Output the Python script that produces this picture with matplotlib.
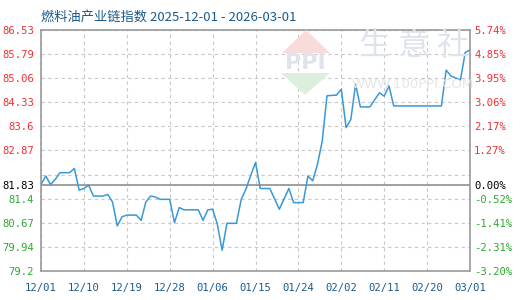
import pandas as pd
import numpy as np
import matplotlib
matplotlib.use("Agg")
import matplotlib.pyplot as plt
import matplotlib.dates as mdates
import matplotlib.patches as mpatches

plt.rcParams['font.family'] = ['Noto Sans CJK SC', 'DejaVu Sans']

# index values (day offset from 2025-12-01, value)
day_offsets = [0, 1, 2, 3, 4, 6, 7, 8, 9, 10, 11, 13, 14, 15, 16, 17, 18, 20,
               21, 22, 23, 24, 25, 27, 28, 29, 30, 33, 34, 35, 36, 37, 38, 39,
               41, 42, 43, 44, 45, 46, 48, 50, 52, 53, 55, 56, 57, 58, 59, 60,
               62, 63, 64, 65, 66, 67, 69, 71, 72, 73, 74, 84, 85, 86, 88, 89, 90]
values = [81.83, 82.09, 81.83, 81.99, 82.19, 82.19, 82.32, 81.66, 81.71, 81.81,
          81.48, 81.48, 81.53, 81.30, 80.57, 80.85, 80.90, 80.90,
          80.74, 81.30, 81.48, 81.45, 81.38, 81.38, 80.67, 81.13, 81.06, 81.06,
          80.74, 81.06, 81.08, 80.62, 79.83, 80.65,
          80.65, 81.38, 81.69, 82.11, 82.50, 81.71, 81.71, 81.08, 81.71, 81.28,
          81.28, 82.09, 81.94, 82.45, 83.15, 84.53,
          84.55, 84.73, 83.56, 83.81, 84.88, 84.19, 84.19, 84.62, 84.52, 84.83,
          84.22, 84.22, 85.31, 85.13, 85.01, 85.85, 85.92]

base_value = 81.83
y_ticks = [79.2, 79.94, 80.67, 81.4, 82.13, 82.87, 83.6, 84.33, 85.06, 85.79, 86.53]
left_labels = ['79.2', '79.94', '80.67', '81.4', '', '82.87', '83.6', '84.33',
               '85.06', '85.79', '86.53']
right_labels = ['-3.20%', '-2.31%', '-1.41%', '-0.52%', '', '1.27%', '2.17%',
                '3.06%', '3.95%', '4.85%', '5.74%']
x_tick_labels = ['12/01', '12/10', '12/19', '12/28', '01/06', '01/15', '01/24',
                 '02/02', '02/11', '02/20', '03/01']

start = pd.Timestamp('2025-12-01')
end = pd.Timestamp('2026-03-01')
dates = [start + pd.Timedelta(days=d) for d in day_offsets]
x_ticks = pd.date_range(start, end, freq='9D')

red = '#f03030'
green = '#2ea82e'
blue_txt = '#1a5a8c'
mono = 'DejaVu Sans Mono'


def fx(px):
    return px / 520


def fy(py):
    return 1 - py / 300


fig = plt.figure(figsize=(5.2, 3.0), dpi=100)
ax = fig.add_axes([fx(41), fy(271), 429 / 520, 241 / 300])

# watermark logo + text
fig.patches.append(mpatches.Polygon([(fx(282), fy(53)), (fx(306), fy(30)), (fx(330), fy(53))],
                                    closed=True, transform=fig.transFigure,
                                    fc='#f8dcdc', ec='none', zorder=0))
fig.patches.append(mpatches.Polygon([(fx(281), fy(73)), (fx(305), fy(95)), (fx(330), fy(73))],
                                    closed=True, transform=fig.transFigure,
                                    fc='#dcefdc', ec='none', zorder=0))
fig.text(fx(305), fy(63), 'PPI', fontsize=16, fontweight='bold', color='#dfe4ec',
         ha='center', va='center', family='DejaVu Sans', zorder=0)
fig.text(fx(414), fy(46), '生 意 社', fontsize=23, color='#dfe4ec',
         ha='center', va='center', zorder=0)
fig.text(fx(413), fy(85), 'WWW.100PPI.COM', fontsize=9.5, color='#e6e6e6',
         ha='center', va='center', family='DejaVu Sans', zorder=0)
ax.patch.set_alpha(0)

ax.plot(dates, values, color='#3a98d8', lw=1.1, zorder=3)
ax.axhline(base_value, color='#999999', lw=1.3, zorder=2)

ax.set_xlim(start, end)
ax.set_ylim(y_ticks[0], y_ticks[-1])
ax.set_xticks(x_ticks)
ax.set_xticklabels(x_tick_labels, family=mono, fontsize=7.6, color=blue_txt)
ax.set_yticks(y_ticks + [base_value])
ax.set_yticklabels(left_labels + ['81.83'], family=mono, fontsize=7.6)
for lbl, v in zip(ax.get_yticklabels(), y_ticks + [base_value]):
    lbl.set_color(red if v > base_value else (green if v < base_value else 'black'))
ax.tick_params(length=0, pad=5)
ax.tick_params(axis='x', pad=9)

ax.grid(True, ls=(0, (3, 3)), color='#c8c8c8', lw=0.8)
for s in ax.spines.values():
    s.set_color('#999999')
    s.set_linewidth(1.2)

ax2 = ax.twinx()
ax2.set_ylim(y_ticks[0], y_ticks[-1])
ax2.set_yticks(y_ticks + [base_value])
ax2.set_yticklabels(right_labels + ['0.00%'], family=mono, fontsize=7.6)
for lbl, v in zip(ax2.get_yticklabels(), y_ticks + [base_value]):
    lbl.set_color(red if v > base_value else (green if v < base_value else 'black'))
ax2.tick_params(length=0, pad=3)
for s in ax2.spines.values():
    s.set_visible(False)

fig.text(fx(41), fy(17), '燃料油产业链指数 2025-12-01 - 2026-03-01',
         fontsize=9.5, color=blue_txt, ha='left', va='center')

fig.savefig('out.png', dpi=100)
